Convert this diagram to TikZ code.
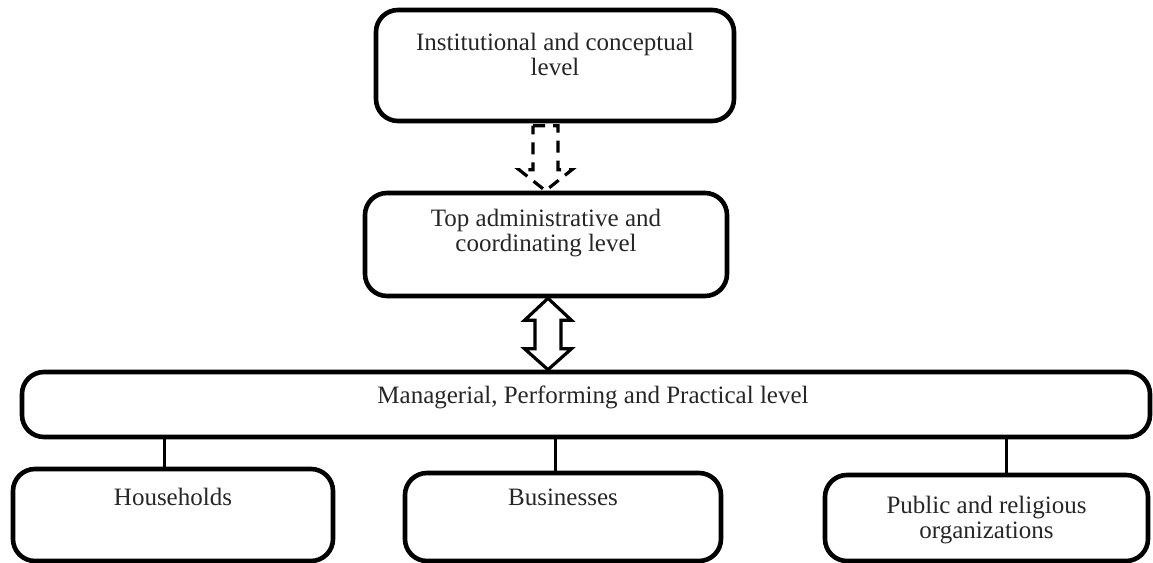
\documentclass[tikz,border=0pt]{standalone}
\usepackage{fontspec}
\setmainfont{Liberation Serif}
\usetikzlibrary{calc}
\begin{document}
\begin{tikzpicture}[x=0.5pt,y=-0.5pt,
  box/.style={draw=black,line width=2.3pt,rounded corners=11pt,inner sep=0pt},
  lbl/.style={font=\fontsize{12.5}{12.5}\selectfont,align=center,inner sep=0pt,text=black!85},
  conn/.style={draw=black,line width=1.5pt},
  blockarrow/.style={draw=black,line width=1.6pt,line join=miter}]
\useasboundingbox (0,0) rectangle (1153,563);
% boxes
\node[box,minimum width=179pt,minimum height=55.5pt] (b1) at (555,65.5) {};
\node[box,minimum width=181pt,minimum height=51.5pt] (b2) at (546,244.5) {};
\node[box,minimum width=564pt,minimum height=32.5pt] (b3) at (586,404.5) {};
\node[box,minimum width=160pt,minimum height=46pt] (b4) at (173,515) {};
\node[box,minimum width=158pt,minimum height=44pt] (b5) at (563,517) {};
\node[box,minimum width=161.5pt,minimum height=43pt] (b6) at (986.5,518) {};
% texts
\node[lbl] (t1) at (555,54) {Institutional and conceptual\\level};
\node[lbl] (t2) at (546,233) {Top administrative and\\coordinating level};
\node[lbl] (t3) at (593,397) {Managerial, Performing and Practical level};
\node[lbl] (t4) at (173,497) {Households};
\node[lbl] (t5) at (563,497) {Businesses};
\node[lbl] (t6) at (986.5,520) {Public and religious\\organizations};
% connectors
\draw[conn] (b3.south -| 164,0) -- (b4.north -| 164,0);
\draw[conn] (b3.south -| 555,0) -- (b5.north -| 555,0);
\draw[conn] (b3.south -| 1006,0) -- (b6.north -| 1006,0);
% dashed block arrow b1 -> b2
\coordinate (dtip) at (b2.north -| 545.5,0);
\draw[blockarrow,dash pattern=on 6pt off 4pt]
  ($(dtip)+(-12.5,-65)$) -- ($(dtip)+(12.5,-65)$) -- ($(dtip)+(12.5,-21)$) -- ($(dtip)+(26.5,-21)$)
  -- (dtip) -- ($(dtip)+(-26.5,-21)$) -- ($(dtip)+(-12.5,-21)$) -- cycle;
% double block arrow b2 <-> b3
\coordinate (utip) at (b2.south -| 548,0);
\coordinate (ltip) at (b3.north -| 548,0);
\draw[blockarrow,fill=white]
  (utip) -- ($(utip)+(23.5,22)$) -- ($(utip)+(13,22)$) -- ($(ltip)+(13,-21)$) -- ($(ltip)+(23.5,-21)$)
  -- (ltip) -- ($(ltip)+(-23.5,-21)$) -- ($(ltip)+(-13,-21)$) -- ($(utip)+(-13,22)$) -- ($(utip)+(-23.5,22)$) -- cycle;
\end{tikzpicture}
\end{document}
